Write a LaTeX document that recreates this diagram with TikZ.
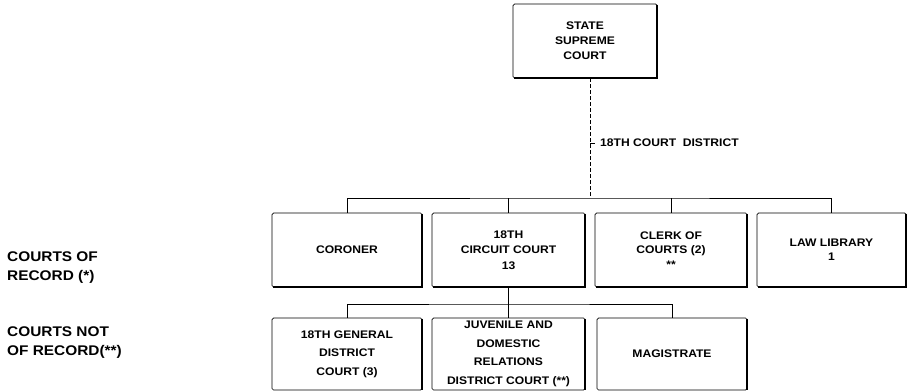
\documentclass[tikz,border=0pt]{standalone}
\usepackage{fontspec}
\setmainfont{Liberation Sans}[FakeStretch=1.1]
\begin{document}
\begin{tikzpicture}[x=1pt,y=-1pt,
  orgbox/.style={draw, line width=0.7pt, rounded corners=1.5pt, inner sep=0pt,
    align=center, font=\fontsize{11}{15.5}\selectfont\bfseries},
  rowone/.style={orgbox, minimum height=74pt},
  rowtwo/.style={orgbox, minimum height=72pt, font=\fontsize{11}{18.5}\selectfont\bfseries},
  heavy/.style={line width=1.8pt},
  link/.style={line width=0.7pt},
  dashlink/.style={line width=0.6pt, dash pattern=on 4pt off 2pt},
  sidelabel/.style={anchor=west, align=left, inner sep=0pt, font=\fontsize{14}{19}\selectfont\bfseries}]
\useasboundingbox (0,0) rectangle (908,391);

% nodes
\node[orgbox, minimum width=144pt, minimum height=74pt, font=\fontsize{11}{15}\selectfont\bfseries] (sup) at (585,41) {STATE\\SUPREME\\COURT};
\node[rowone, minimum width=150pt] (coroner) at (347,250) {CORONER};
\node[rowone, minimum width=153pt] (circuit) at (508.5,250) {18TH\\CIRCUIT COURT\\13};
\node[rowone, minimum width=152pt, font=\fontsize{11}{14.5}\selectfont\bfseries] (clerk) at (671,250) {CLERK OF\\COURTS (2)\\**};
\node[rowone, minimum width=149pt, font=\fontsize{11}{14}\selectfont\bfseries] (lawlib) at (831.5,250) {LAW LIBRARY\\1};
\node[rowtwo, minimum width=150pt] (general) at (347,354) {18TH GENERAL\\DISTRICT\\COURT (3)};
\node[rowtwo, minimum width=153pt] (juvenile) at (508.5,354) {JUVENILE AND\\DOMESTIC\\RELATIONS\\DISTRICT COURT (**)};
\node[rowtwo, minimum width=150pt] (magistrate) at (672,354) {MAGISTRATE};

\node[sidelabel] (rec) at (7,267.5) {COURTS OF\\RECORD (*)};
\node[sidelabel] (nrec) at (7,342.5) {COURTS NOT\\OF RECORD(**)};

% heavy shadow edges
\foreach \n in {sup,coroner,circuit,clerk,lawlib}
  \draw[heavy] ([yshift=-1pt]\n.north east) -- (\n.south east) -- ([xshift=1pt]\n.south west);
\foreach \n in {general,juvenile,magistrate}
  \draw[heavy] ([yshift=-1pt]\n.north east) -- (\n.south east);

% connectors
\coordinate (busone) at (590,198);
\coordinate (bustwo) at (508.5,304);
\coordinate (tick) at (590,143);
\draw[dashlink] (sup.south -| busone) -- (busone);
\draw[link] (tick) -- ++(5,0);
\node[anchor=west, inner sep=0pt, font=\fontsize{11}{13}\selectfont\bfseries] (district) at (600,143) {18TH COURT\ \ DISTRICT};
\draw[link] (coroner.north) |- (busone) -| (lawlib.north);
\draw[link] (circuit.north |- busone) -- (circuit.north);
\draw[link] (clerk.north |- busone) -- (clerk.north);
\draw[link] (circuit.south) -- (juvenile.north);
\draw[link] (general.north) |- (bustwo) -| (magistrate.north);
\end{tikzpicture}
\end{document}
